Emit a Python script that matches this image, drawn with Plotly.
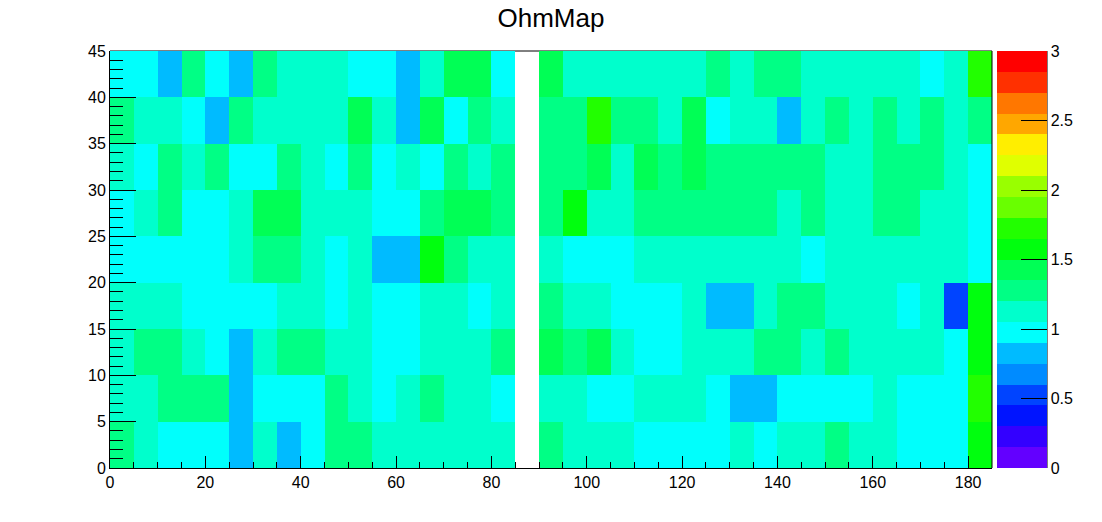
import colorsys
import plotly.graph_objects as go

# ---- data ----
x_centers = [2.5 + 5 * i for i in range(37)]
y_centers = [2.5 + 5 * j for j in range(9)]

# band-centre values
B, L, C, T, M, G, H, Y = 0.52, 0.82, 0.97, 1.12, 1.27, 1.42, 1.57, 1.72
N = None

row_00_05 = [M, T, C, C, C, L, T, L, C, M, M, T, T, T, T, T, T, N, M, T, T, T, C, C, C, C, T, C, T, T, M, T, T, C, C, C, H]
row_05_10 = [T, T, M, M, M, L, C, C, C, M, T, C, T, M, T, T, C, N, T, T, C, C, T, T, T, C, L, L, C, C, C, C, T, C, C, C, Y]
row_10_15 = [T, M, M, T, C, L, T, M, M, T, T, C, C, T, T, T, M, N, G, M, G, T, C, C, T, T, T, M, M, T, M, T, T, T, T, C, H]
row_15_20 = [T, T, T, C, C, C, C, T, T, C, T, C, C, T, T, C, T, N, M, T, T, C, C, C, T, L, L, T, M, M, T, T, T, C, T, B, H]
row_20_25 = [C, C, C, C, C, T, M, M, T, C, T, L, L, H, M, T, T, N, T, C, C, C, T, T, T, T, T, T, T, C, T, T, T, T, T, T, C]
row_25_30 = [C, T, M, C, C, T, G, G, T, T, T, C, C, M, G, G, M, N, M, H, T, T, M, M, M, M, M, M, T, M, T, T, M, M, T, T, C]
row_30_35 = [T, C, M, T, M, C, C, M, T, C, M, C, T, C, M, T, M, N, M, M, G, T, G, M, G, M, M, M, M, M, T, T, M, M, M, T, C]
row_35_40 = [M, T, T, C, L, M, T, T, T, T, G, T, L, G, C, M, T, N, M, M, Y, M, M, T, G, C, T, T, L, T, M, T, M, T, M, T, M]
row_40_45 = [C, C, L, M, C, L, M, T, T, T, C, C, L, T, G, G, C, N, G, T, T, T, T, T, T, M, T, M, M, T, T, T, T, T, C, T, Y]

z_rows = [row_00_05, row_05_10, row_10_15, row_15_20, row_20_25,
          row_25_30, row_30_35, row_35_40, row_40_45]

z_min, z_max = 0.0, 3.0
n_bands = 20
x_tick_vals = [0, 20, 40, 60, 80, 100, 120, 140, 160, 180]
y_tick_vals = [0, 5, 10, 15, 20, 25, 30, 35, 40, 45]
cb_tick_vals = [0, 0.5, 1, 1.5, 2, 2.5, 3]
cb_tick_text = ["0", "0.5", "1", "1.5", "2", "2.5", "3"]

# ---- ROOT "pretty" palette, 20 contour levels ----
def root_color(k):
    idx = int((k + 0.99) * 50 / n_bands)
    hue = 280 - (idx + 1) * (280 / 50)
    r, g, b = colorsys.hls_to_rgb(hue / 360.0, 0.5, 1.0)
    return "rgb(%d,%d,%d)" % (round(r * 255), round(g * 255), round(b * 255))

colorscale = []
for k in range(n_bands):
    c = root_color(k)
    colorscale.append([k / n_bands, c])
    colorscale.append([(k + 1) / n_bands, c])

# ---- layout geometry ----
W, Hh = 1102, 522
pl, pr, pt, pb = 110, 992, 51, 468
plot_w = pr - pl
cb_left = 997
cb_right = 1047

font_family = "Liberation Sans, Arial, sans-serif"

fig = go.Figure(go.Heatmap(
    x=x_centers, y=y_centers, z=z_rows,
    zmin=z_min, zmax=z_max, zsmooth=False,
    colorscale=colorscale,
    hoverongaps=False,
    colorbar=dict(
        x=(cb_left - pl) / plot_w, xanchor="left", xref="paper",
        y=0, yanchor="bottom", yref="paper",
        len=1, lenmode="fraction",
        thickness=cb_right - cb_left, thicknessmode="pixels",
        xpad=0, ypad=0, outlinewidth=0,
        ticks="inside", ticklen=26, tickwidth=1, tickcolor="black",
        tickvals=cb_tick_vals, ticktext=cb_tick_text,
        tickfont=dict(family=font_family, size=16, color="black"),
    ),
))

fig.update_layout(
    width=W, height=Hh, autosize=False,
    margin=dict(l=pl, r=W - pr, t=pt, b=Hh - pb, pad=0, autoexpand=False),
    paper_bgcolor="white", plot_bgcolor="white",
    title=dict(text="OhmMap", x=0.5, xanchor="center", xref="container",
               y=1 - 18 / Hh, yanchor="middle", yref="container",
               font=dict(family=font_family, size=26, color="black")),
    xaxis=dict(range=[0, 185], tickvals=x_tick_vals, ticks="inside",
               ticklen=12, tickwidth=1, tickcolor="black",
               showline=True, linecolor="black", linewidth=1, mirror=False,
               showgrid=False, zeroline=False,
               tickfont=dict(family=font_family, size=16, color="black"),
               minor=dict(dtick=5, tick0=0, ticks="inside", ticklen=6,
                          tickcolor="black", tickwidth=1, showgrid=False)),
    yaxis=dict(range=[0, 45], tickvals=y_tick_vals, ticks="inside",
               ticklen=26, tickwidth=1, tickcolor="black",
               showline=True, linecolor="black", linewidth=1, mirror=False,
               showgrid=False, zeroline=False,
               tickfont=dict(family=font_family, size=16, color="black"),
               minor=dict(dtick=1, tick0=0, ticks="inside", ticklen=13,
                          tickcolor="black", tickwidth=1, showgrid=False)),
    shapes=[
        dict(type="line", xref="paper", yref="paper", x0=0, x1=1, y0=1, y1=1,
             line=dict(color="black", width=1), layer="below"),
        dict(type="line", xref="paper", yref="paper", x0=1, x1=1, y0=0, y1=1,
             line=dict(color="black", width=1), layer="above"),
        dict(type="line", xref="paper", yref="paper",
             x0=(cb_right - pl) / plot_w, x1=(cb_right - pl) / plot_w, y0=0, y1=1,
             line=dict(color="black", width=1), layer="above"),
    ],
)

fig.write_html("out.html",
               config={"displayModeBar": False},
               post_script="document.body.style.margin='0';document.body.style.overflow='hidden';")
